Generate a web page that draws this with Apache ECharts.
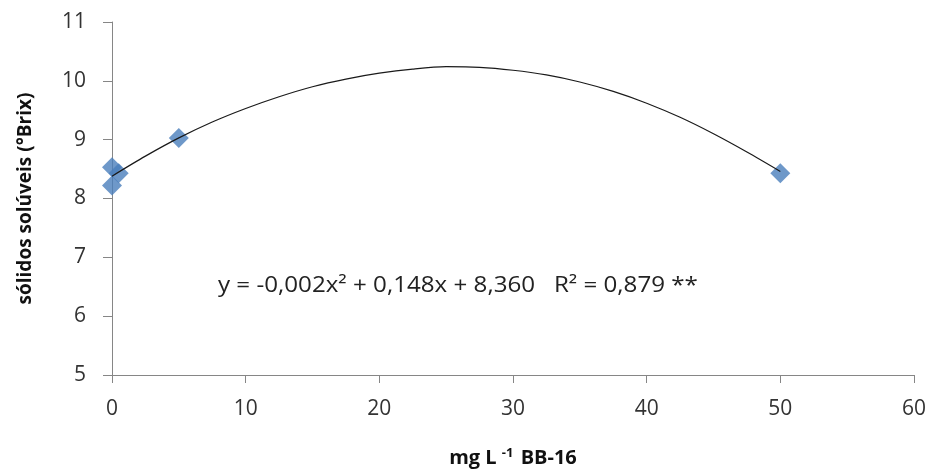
<!DOCTYPE html>
<html>
<head>
<meta charset="utf-8">
<script src="https://cdn.jsdelivr.net/npm/echarts@6/dist/echarts.min.js"></script>
<style>
  html, body { margin: 0; padding: 0; background: #fff; }
  #chart { width: 931px; height: 469px; }
</style>
</head>
<body>
<div id="chart"></div>
<script>
// observed points (dose, soluble solids)
var doseObs = [0, 0, 0.5, 5, 50];
var brixObs = [8.53, 8.22, 8.43, 9.03, 8.43];

// trend curve
var curveX = [0, 2.5, 5, 7.5, 10, 12.5, 15, 17.5, 20, 22.5, 25, 27.5, 30, 32.5, 35, 37.5, 40, 42.5, 45, 47.5, 50];
var curveY = [8.38, 8.72, 9.03, 9.30, 9.53, 9.73, 9.90, 10.03, 10.13, 10.20, 10.24, 10.23, 10.18, 10.10, 9.98, 9.82, 9.62, 9.38, 9.10, 8.79, 8.46];

var eqText = 'y = -0,002x² + 0,148x + 8,360   R² = 0,879 **';

var chart = echarts.init(document.getElementById('chart'));

var axisFont = '"Open Sans", sans-serif';

var option = {
  animation: false,
  grid: { left: 112, right: 17, top: 22, bottom: 94, containLabel: false, outerBoundsMode: 'none' },
  xAxis: {
    type: 'value',
    min: 0, max: 60, interval: 10,
    name: '{a|mg L }{s|-1}{a| BB-16}',
    nameLocation: 'middle',
    nameGap: 72,
    nameTextStyle: {
      rich: {
        a: { fontSize: 20, fontWeight: 'bold', color: '#111', fontFamily: axisFont },
        s: { fontSize: 13, fontWeight: 'bold', color: '#111', fontFamily: axisFont, verticalAlign: 'top', padding: [0, 2, 10, 0] }
      }
    },
    axisLine: { show: true, lineStyle: { color: '#868686', width: 1 } },
    axisTick: { show: true, inside: false, length: 8, lineStyle: { color: '#868686' } },
    axisLabel: { color: '#333', fontSize: 21, fontFamily: axisFont, margin: 24 },
    splitLine: { show: false }
  },
  yAxis: {
    type: 'value',
    min: 5, max: 11, interval: 1,
    name: 'sólidos solúveis (°Brix)',
    nameLocation: 'middle',
    nameGap: 77,
    nameTextStyle: { color: '#111', fontSize: 19, fontWeight: 'bold', fontFamily: axisFont },
    axisLine: { show: true, lineStyle: { color: '#868686', width: 1 } },
    axisTick: { show: true, inside: false, length: 9, lineStyle: { color: '#868686' } },
    axisLabel: { color: '#333', fontSize: 21, fontFamily: axisFont, margin: 26 },
    splitLine: { show: false }
  },
  series: [
    {
      type: 'line',
      data: curveX.map(function (x, i) { return [x, curveY[i]]; }),
      smooth: 0.3,
      showSymbol: false,
      symbol: 'none',
      lineStyle: { color: '#1a1a1a', width: 1.2 },
      z: 3
    },
    {
      type: 'scatter',
      data: doseObs.map(function (x, i) { return [x, brixObs[i]]; }),
      symbol: 'diamond',
      symbolSize: 20,
      itemStyle: { color: '#4a7ebb' },
      z: 2
    }
  ],
  graphic: [
    {
      type: 'text',
      left: 218,
      top: 276,
      scaleX: 1.15,
      style: { text: eqText, fill: '#222', fontSize: 21, fontFamily: axisFont }
    }
  ]
};

chart.setOption(option);
</script>
</body>
</html>
